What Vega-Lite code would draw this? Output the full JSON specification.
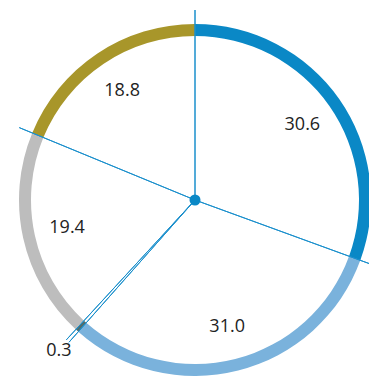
{
  "$schema": "https://vega.github.io/schema/vega-lite/v6.json",
  "width": 348,
  "height": 352,
  "autosize": {"type": "none"},
  "padding": {"left": 21, "top": 24, "right": 0, "bottom": 0},
  "background": "white",
  "view": {"stroke": null},
  "data": {
    "values": [
      {"seg": "a", "value": 30.6},
      {"seg": "b", "value": 31.0},
      {"seg": "c", "value": 0.3},
      {"seg": "d", "value": 19.4},
      {"seg": "e", "value": 18.8}
    ]
  },
  "encoding": {
    "theta": {"field": "value", "type": "quantitative", "stack": true, "scale": {"domain": [0, 100.1]}},
    "order": {"field": "seg", "type": "ordinal"}
  },
  "layer": [
    {
      "mark": {"type": "arc", "innerRadius": 164, "outerRadius": 176},
      "encoding": {
        "color": {
          "field": "seg",
          "type": "nominal",
          "scale": {"domain": ["a", "b", "c", "d", "e"], "range": ["#0a88c6", "#7ab2dc", "#4f6d70", "#bdbdbd", "#a8962a"]},
          "legend": null
        }
      }
    },
    {
      "transform": [
        {"window": [{"op": "sum", "field": "value", "as": "cum"}], "sort": [{"field": "seg", "order": "ascending"}], "frame": [null, 0]}
      ],
      "mark": {"type": "arc", "innerRadius": 0, "outerRadius": 190, "fill": null, "filled": false, "stroke": "#1a8fcc", "strokeWidth": 1},
      "encoding": {
        "theta": {"field": "cum", "type": "quantitative", "stack": null},
        "theta2": {"field": "cum"},
        "order": null
      }
    },
    {
      "mark": {"type": "text", "radius": 131, "fontSize": 18, "font": "Open Sans", "color": "#222222", "align": "center", "baseline": "middle"},
      "encoding": {
        "text": {"field": "value", "type": "quantitative", "format": ".1f"},
        "opacity": {"condition": {"test": "datum.value < 1", "value": 0}, "value": 1}
      }
    },
    {
      "mark": {"type": "text", "radius": 203, "fontSize": 18, "font": "Open Sans", "color": "#222222", "align": "center", "baseline": "middle"},
      "encoding": {
        "text": {"field": "value", "type": "quantitative", "format": ".1f"},
        "opacity": {"condition": {"test": "datum.value < 1", "value": 1}, "value": 0}
      }
    },
    {
      "transform": [{"filter": "datum.seg == 'a'"}],
      "mark": {"type": "arc", "innerRadius": 0, "outerRadius": 5.5, "color": "#0a88c6"},
      "encoding": {
        "theta": {"value": 0},
        "theta2": {"value": 6.2832},
        "order": null
      }
    }
  ]
}
